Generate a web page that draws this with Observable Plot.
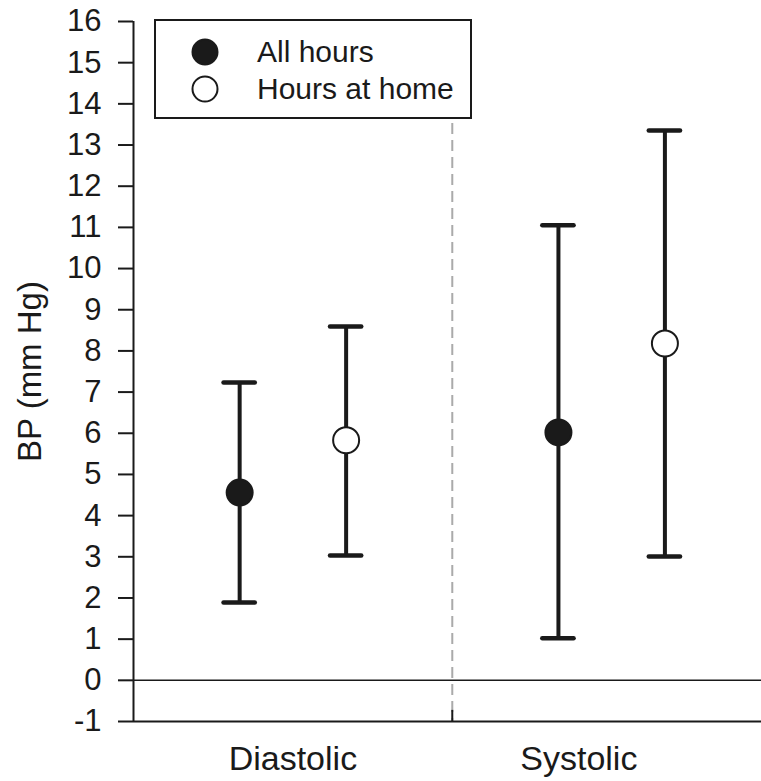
<!DOCTYPE html>
<html>
<head>
<meta charset="utf-8">
<script src="https://cdn.jsdelivr.net/npm/d3@7"></script>
<script src="https://cdn.jsdelivr.net/npm/@observablehq/plot@0.6"></script>
<style>
  html, body { margin: 0; padding: 0; background: #fff; }
  #chart { position: relative; width: 761px; height: 781px; }
  svg { font-family: "Liberation Sans", Arial, Helvetica, sans-serif; }
</style>
</head>
<body>
<div id="chart"></div>
<script>
const categories = ["Diastolic", "Systolic"];
const series = ["All hours", "Hours at home"];
// mean change and 95% CI, [category][series]
const means = [[4.56, 5.83], [6.02, 8.18]];
const lows  = [[1.89, 3.03], [1.02, 3.01]];
const highs = [[7.23, 8.59], [11.05, 13.35]];
const yTicks = [-1,0,1,2,3,4,5,6,7,8,9,10,11,12,13,14,15,16];

const OFFSET = 0.167, CAP = 0.049;
const rows = [];
categories.forEach((c, ci) => series.forEach((s, si) => rows.push({
  category: c, series: s, filled: si === 0,
  pos: ci + 1 + (si === 0 ? -OFFSET : OFFSET),
  mean: means[ci][si], lo: lows[ci][si], hi: highs[ci][si]
})));
const separator = 1.5;

const ink = "#1a1a1a";
const plot = Plot.plot({
  width: 761, height: 781,
  marginLeft: 133, marginRight: 0, marginTop: 21, marginBottom: 60,
  style: {fontFamily: '"Liberation Sans", Arial, sans-serif', background: "#fff", color: ink},
  x: {type: "linear", domain: [0.5, 2.47]},
  y: {domain: [-1, 16]},
  marks: [
    Plot.ruleX([separator], {stroke: "#aaa", strokeWidth: 2, strokeDasharray: "11,6"}),
    Plot.ruleX([separator], {y1: -1, y2: -0.73, stroke: ink, strokeWidth: 2}),
    Plot.ruleY([0], {stroke: ink, strokeWidth: 1.6}),
    Plot.ruleY([-1], {stroke: ink, strokeWidth: 2}),
    Plot.ruleX([0.5], {stroke: ink, strokeWidth: 2}),
    Plot.axisY({ticks: yTicks, tickFormat: d => String(d), tickSize: 15, tickPadding: 17,
      fontSize: 31, stroke: ink, strokeWidth: 2, label: null}),
    Plot.axisY({ticks: [], fontSize: 33,
      label: "BP (mm Hg)", labelAnchor: "center", labelArrow: "none", labelOffset: 116}),
    Plot.axisX({ticks: [1, 1.897], tickFormat: (d, i) => categories[i], tickSize: 0,
      tickPadding: 24, fontSize: 34, label: null}),
    Plot.ruleX(rows, {x: "pos", y1: "lo", y2: "hi", stroke: ink, strokeWidth: 4}),
    Plot.ruleY(rows, {y: "hi", x1: d => d.pos - CAP, x2: d => d.pos + CAP, stroke: ink, strokeWidth: 4.5, strokeLinecap: "round"}),
    Plot.ruleY(rows, {y: "lo", x1: d => d.pos - CAP, x2: d => d.pos + CAP, stroke: ink, strokeWidth: 4.5, strokeLinecap: "round"}),
    Plot.dot(rows, {x: "pos", y: "mean", r: 13, fill: d => d.filled ? ink : "#fff",
      stroke: ink, strokeWidth: 2})
  ]
});
document.getElementById("chart").appendChild(plot);

// legend box (inside plot area, top-left)
const svg = d3.select(plot);
const lg = svg.append("g").attr("transform", "translate(155,20)");
lg.append("rect").attr("width", 316).attr("height", 98)
  .attr("fill", "#fff").attr("stroke", ink).attr("stroke-width", 2);
series.forEach((s, i) => {
  const cy = 32 + i * 37;
  lg.append("circle").attr("cx", 50).attr("cy", cy).attr("r", 12.5)
    .attr("fill", i === 0 ? ink : "#fff").attr("stroke", ink).attr("stroke-width", 2);
  lg.append("text").attr("x", 102).attr("y", cy + 10).attr("font-size", 30)
    .attr("text-anchor", "start").attr("fill", ink).text(s);
});
</script>
</body>
</html>
